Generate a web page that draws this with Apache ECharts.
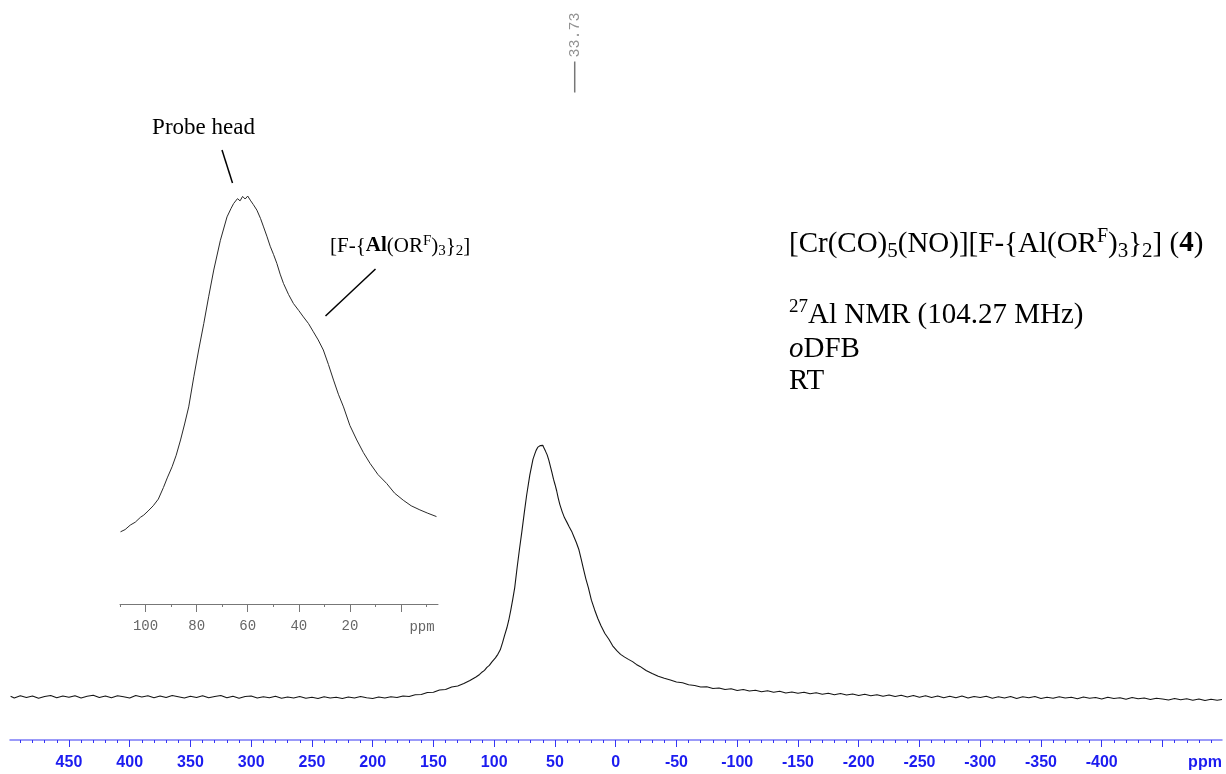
<!DOCTYPE html>
<html><head><meta charset="utf-8">
<script src="https://cdn.jsdelivr.net/npm/echarts@6/dist/echarts.min.js"></script>
<style>html,body{margin:0;padding:0;background:#fff}#c{width:1226px;height:774px}</style>
</head><body><div id="c"></div>
<script>
// 27Al NMR spectrum: [chemical shift (ppm), intensity (peak = 100)]
const spectrum = [
[498,0.3],[495,-0.4],[490,0.5],[485,-0.2],[480,0.4],[475,-0.5],[470,0.2],[465,0.6],[460,-0.3],[455,0.4],
[450,-0.1],[445,0.5],[440,-0.4],[435,0.3],[430,0.7],[425,-0.2],[420,0.4],[415,-0.3],[410,0.5],[405,0.1],
[400,-0.4],[395,0.6],[390,0.0],[385,0.5],[380,-0.3],[375,0.4],[370,-0.2],[365,0.6],[360,0.1],[355,-0.4],
[350,0.3],[345,-0.2],[340,0.5],[335,-0.3],[330,0.2],[325,0.6],[320,-0.3],[315,0.3],[310,-0.5],[305,0.2],
[300,0.4],[295,-0.4],[290,0.1],[285,-0.3],[280,0.3],[275,-0.5],[270,0.0],[265,-0.4],[260,0.2],[255,-0.5],
[250,-0.1],[245,-0.6],[240,0.1],[235,-0.4],[230,-0.1],[225,-0.6],[220,0.0],[215,-0.4],[210,0.2],[205,-0.3],
[200,-0.6],[195,0.0],[190,-0.4],[185,0.1],[180,-0.2],[175,0.4],[170,0.2],[165,0.9],[160,1.0],[155,1.8],
[150,1.9],[145,2.8],[140,3.0],[135,4.0],[130,4.4],[125,5.4],[120,6.6],[115,8.0],[112,9.0],
[109.8,10.0],[108,10.6],[106,11.8],[104,12.6],[102,13.9],[100.7,14.5],[99,15.6],[97,17.0],[95,18.8],[93,21.9],
[91.5,24.5],[89.6,27.5],[88,30.6],[86.3,34.7],[84.7,39.0],[83.1,43.6],[81.1,51.7],[79.2,58.9],[77.2,66.0],[75.3,73.2],
[73.3,80.4],[70.7,88.4],[68.1,94.7],[66.5,97.0],[65.5,98.3],[64,99.6],[63,99.0],[62,100.2],[61,99.5],[60,100.3],
[59,99.2],[57.8,98.0],[56.4,96.5],[55,94.3],[53.8,92.0],[52.5,89.5],[51.2,86.8],[49.9,84.6],[48.6,82.2],[47.3,79.3],
[46,76.8],[44,73.8],[42.1,71.4],[40,69.5],[38.2,67.8],[36.2,66.0],[34.3,63.8],[32.4,61.6],[30.4,58.9],[28.4,55.0],
[26.4,50.8],[24.5,47.0],[22.5,43.6],[20,38.6],[17.3,34.7],[14.7,31.3],[12.1,28.4],[9,25.4],[5.6,23.0],[2.5,20.4],
[-0.9,18.5],[-4,17.0],[-7.4,15.9],[-10.5,15.0],[-13.9,14.1],
[-17,13.0],[-20,12.2],[-25,10.6],[-30,9.4],[-35,8.3],[-40,7.5],[-45,6.8],[-50,6.0],[-55,5.7],[-60,4.9],
[-65,4.6],[-70,4.0],[-75,4.1],[-80,3.4],[-85,3.6],[-90,3.0],[-95,3.3],[-100,2.6],[-105,3.0],[-110,2.4],
[-115,2.7],[-120,2.1],[-125,2.5],[-130,1.9],[-135,2.3],[-140,1.6],[-145,2.0],[-150,1.5],[-155,1.9],[-160,1.3],
[-165,1.7],[-170,1.1],[-175,1.5],[-180,0.9],[-185,1.4],[-190,0.8],[-195,1.2],[-200,0.6],[-205,1.1],[-210,0.5],
[-215,0.9],[-220,0.3],[-225,0.8],[-230,0.2],[-235,0.7],[-240,0.0],[-245,0.6],[-250,-0.1],[-255,0.5],[-260,-0.2],
[-265,0.4],[-270,-0.3],[-275,0.3],[-280,-0.3],[-285,0.4],[-290,-0.4],[-295,0.2],[-300,-0.2],[-305,0.3],[-310,-0.5],
[-315,0.1],[-320,-0.4],[-325,0.2],[-330,-0.6],[-335,0.1],[-340,-0.3],[-345,0.2],[-350,-0.6],[-355,-0.1],[-360,-0.5],
[-365,0.1],[-370,-0.4],[-375,-0.1],[-380,-0.7],[-385,0.0],[-390,-0.5],[-395,-0.2],[-400,-0.8],[-405,-0.1],[-410,-0.6],
[-415,-0.3],[-420,-0.9],[-425,-0.2],[-430,-0.7],[-435,-0.4],[-440,-1.0],[-445,-0.5],[-450,-0.8],[-455,-1.2],[-460,-0.6],
[-465,-1.1],[-470,-0.7],[-475,-1.3],[-480,-0.8],[-485,-1.4],[-490,-0.9],[-495,-1.3],[-499,-1.0]
];
const peakLabels = [33.73];

const mainTickMajor = [450,400,350,300,250,200,150,100,50,0,-50,-100,-150,-200,-250,-300,-350,-400,-450];
const mainTickLabels = [450,400,350,300,250,200,150,100,50,0,-50,-100,-150,-200,-250,-300,-350,-400];
const insetTickMajor = [100,80,60,40,20,0];
const insetTickLabels = [100,80,60,40,20];
const insetTickMinor = [110,90,70,50,30,10,-10];

const mainTickMinor = [];
for (let v = 490; v >= -490; v -= 10) { if (v % 50 !== 0) mainTickMinor.push(v); }

const MAIN_MIN = -499, MAIN_MAX = 498.5;
const INSET_MIN = -14.5, INSET_MAX = 110;
const insetData = spectrum.filter(p => p[0] >= INSET_MIN && p[0] <= INSET_MAX);

const BLUE = '#1c1cf0';
const serif = 'Liberation Serif';

const chart = echarts.init(document.getElementById('c'), null, {renderer: 'canvas'});
chart.setOption({
  animation: false,
  backgroundColor: '#fff',
  grid: [
    {left: 10, right: 4, top: 421, bottom: 34},
    {left: 120, width: 318, top: 186, bottom: 170},
    {left: 10, right: 4, top: 0, height: 100}
  ],
  xAxis: [
    {type: 'value', gridIndex: 0, min: MAIN_MIN, max: MAIN_MAX, inverse: true, position: 'bottom',
     axisLine: {onZero: false, lineStyle: {color: '#7b7bf7', width: 1.5}},
     axisTick: {customValues: mainTickMajor, length: 7, lineStyle: {color: '#3535f5', width: 1}},
     axisLabel: {customValues: mainTickLabels, margin: 15, color: BLUE, fontWeight: 'bold', fontSize: 16, fontFamily: 'Liberation Sans'},
     splitLine: {show: false}},
    {type: 'value', gridIndex: 0, min: MAIN_MIN, max: MAIN_MAX, inverse: true, position: 'bottom',
     axisLine: {show: false, onZero: false},
     axisTick: {customValues: mainTickMinor, length: 3, lineStyle: {color: '#3535f5', width: 1}},
     axisLabel: {show: false}, splitLine: {show: false}},
    {type: 'value', gridIndex: 1, min: INSET_MIN, max: INSET_MAX, inverse: true, position: 'bottom',
     axisLine: {onZero: false, lineStyle: {color: '#777', width: 1}},
     axisTick: {customValues: insetTickMajor, length: 8, lineStyle: {color: '#777', width: 1}},
     axisLabel: {customValues: insetTickLabels, margin: 15, color: '#666', fontSize: 14, fontFamily: 'Liberation Mono'},
     splitLine: {show: false}},
    {type: 'value', gridIndex: 1, min: INSET_MIN, max: INSET_MAX, inverse: true, position: 'bottom',
     axisLine: {show: false, onZero: false},
     axisTick: {customValues: insetTickMinor, length: 3, lineStyle: {color: '#777', width: 1}},
     axisLabel: {show: false}, splitLine: {show: false}},
    {type: 'value', gridIndex: 2, min: MAIN_MIN, max: MAIN_MAX, inverse: true, show: false}
  ],
  yAxis: [
    {type: 'value', gridIndex: 0, min: -17.13, max: 110, show: false},
    {type: 'value', gridIndex: 1, min: -9.41, max: 103, show: false},
    {type: 'value', gridIndex: 2, min: -23, max: 77, show: false}
  ],
  series: [
    {type: 'line', xAxisIndex: 0, yAxisIndex: 0, data: spectrum, symbol: 'none', clip: true,
     lineStyle: {color: '#151515', width: 1.1}},
    {type: 'line', xAxisIndex: 2, yAxisIndex: 1, data: insetData, symbol: 'none', clip: true,
     lineStyle: {color: '#2a2a2a', width: 1}},
    {type: 'scatter', xAxisIndex: 4, yAxisIndex: 2, data: peakLabels.map(p => [p, 0]),
     symbol: 'rect', symbolSize: [1.5, 31], itemStyle: {color: '#555'},
     label: {show: true, position: 'top', distance: 4, rotate: 90, align: 'left', verticalAlign: 'middle',
       formatter: p => p.value[0].toFixed(2), fontFamily: 'Liberation Mono', fontSize: 15, color: '#777'}}
  ],
  graphic: [
    {type: 'text', x: 1205, y: 763, style: {text: 'ppm', fontFamily: 'Liberation Sans', fontWeight: 'bold', fontSize: 16, fill: BLUE, align: 'center', verticalAlign: 'middle'}},
    {type: 'text', x: 422, y: 627, style: {text: 'ppm', fontFamily: 'Liberation Mono', fontSize: 14, fill: '#666', align: 'center', verticalAlign: 'middle'}},
    {type: 'text', x: 203.5, y: 128, style: {text: 'Probe head', fontFamily: serif, fontSize: 23, fill: '#000', align: 'center', verticalAlign: 'middle'}},
    {type: 'line', shape: {x1: 222, y1: 150, x2: 232.5, y2: 183}, style: {stroke: '#000', lineWidth: 1.5}},
    {type: 'line', shape: {x1: 375.5, y1: 269, x2: 325.5, y2: 316}, style: {stroke: '#000', lineWidth: 1.5}},
    {type: 'text', x: 330, y: 246, style: {
      text: '{n|[F-{}{b|Al}{n|(OR}{sp|F}{n|)}{sb|3}}{sb|2}{n|]}',
      fontFamily: serif, fontSize: 21, lineHeight: 25, fill: '#000', align: 'left', verticalAlign: 'middle',
      rich: {
        n: {fontFamily: serif, fontSize: 21, lineHeight: 25, fill: '#000'},
        b: {fontFamily: serif, fontSize: 21, lineHeight: 25, fontWeight: 'bold', fill: '#000'},
        sb: {fontFamily: serif, fontSize: 15, lineHeight: 15, verticalAlign: 'bottom', fill: '#000'},
        sp: {fontFamily: serif, fontSize: 15, lineHeight: 15, verticalAlign: 'top', fill: '#000'}
      }}},
    {type: 'text', x: 789, y: 244, style: {
      text: '{n|[Cr(CO)}{sb|5}{n|(NO)][F-{Al(OR}{sp|F}{n|)}{sb|3}}{sb|2}{n|] (}{b|4}{n|)}',
      fontFamily: serif, fontSize: 29, lineHeight: 35, fill: '#000', align: 'left', verticalAlign: 'middle',
      rich: {
        n: {fontFamily: serif, fontSize: 29, lineHeight: 35, fill: '#000'},
        b: {fontFamily: serif, fontSize: 29, lineHeight: 35, fontWeight: 'bold', fill: '#000'},
        sb: {fontFamily: serif, fontSize: 21, lineHeight: 21, verticalAlign: 'bottom', fill: '#000'},
        sp: {fontFamily: serif, fontSize: 20, lineHeight: 20, verticalAlign: 'top', fill: '#000'}
      }}},
    {type: 'text', x: 789, y: 315, style: {
      text: '{sp|27}{n|Al NMR (104.27 MHz)}',
      fontFamily: serif, fontSize: 29, lineHeight: 35, fill: '#000', align: 'left', verticalAlign: 'middle',
      rich: {
        n: {fontFamily: serif, fontSize: 29, lineHeight: 35, fill: '#000'},
        sp: {fontFamily: serif, fontSize: 19, lineHeight: 20, verticalAlign: 'top', fill: '#000'}
      }}},
    {type: 'text', x: 789, y: 349, style: {
      text: '{i|o}{n|DFB}',
      fontFamily: serif, fontSize: 29, lineHeight: 35, fill: '#000', align: 'left', verticalAlign: 'middle',
      rich: {
        n: {fontFamily: serif, fontSize: 29, lineHeight: 35, fill: '#000'},
        i: {fontFamily: serif, fontSize: 29, lineHeight: 35, fontStyle: 'italic', fill: '#000'}
      }}},
    {type: 'text', x: 789, y: 381, style: {text: 'RT', fontFamily: serif, fontSize: 29, fill: '#000', align: 'left', verticalAlign: 'middle'}}
  ]
});
</script>
</body></html>
